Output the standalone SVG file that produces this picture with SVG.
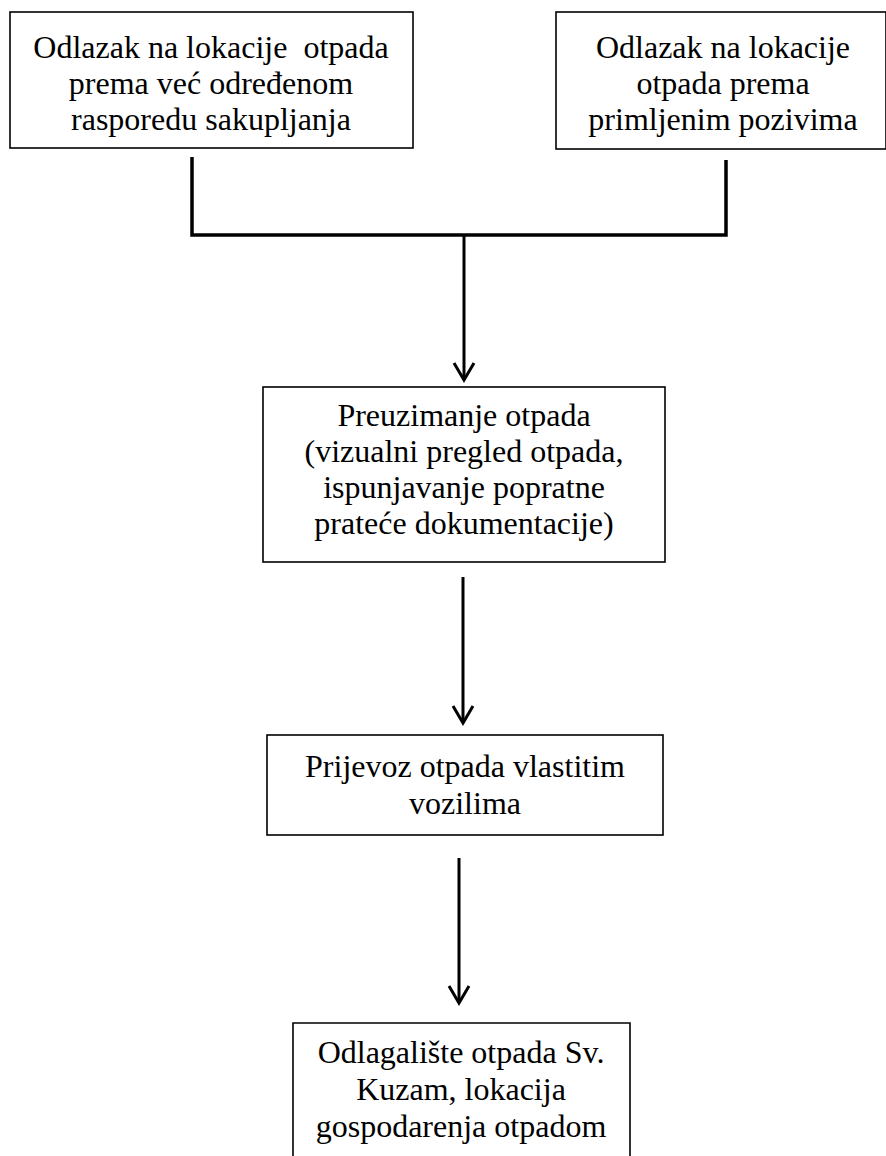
<svg xmlns="http://www.w3.org/2000/svg" width="886" height="1156" viewBox="0 0 886 1156">
<style>
.box{fill:#fff;stroke:#000;stroke-width:1.6}
.t{font-family:"Liberation Serif","Times New Roman",serif;font-size:32px;fill:#000;text-anchor:middle}
.c{fill:none;stroke:#000;stroke-width:3;stroke-linecap:butt}
.thick{stroke-width:3.5}
</style>
<rect width="886" height="1156" fill="#fff"/>
<g id="n1">
<rect class="box" x="10" y="12" width="403" height="136"/>
<text class="t" x="211" y="58" xml:space="preserve">Odlazak na lokacije  otpada</text>
<text class="t" x="211" y="94">prema već određenom</text>
<text class="t" x="211" y="130">rasporedu sakupljanja</text>
</g>
<g id="n2">
<rect class="box" x="556" y="12" width="330" height="137"/>
<text class="t" x="723" y="58">Odlazak na lokacije</text>
<text class="t" x="723" y="94">otpada prema</text>
<text class="t" x="723" y="130">primljenim pozivima</text>
</g>
<g id="n3">
<rect class="box" x="263" y="387" width="402" height="175"/>
<text class="t" x="464" y="426">Preuzimanje otpada</text>
<text class="t" x="464" y="462">(vizualni pregled otpada,</text>
<text class="t" x="464" y="498">ispunjavanje popratne</text>
<text class="t" x="464" y="534">prateće dokumentacije)</text>
</g>
<g id="n4">
<rect class="box" x="267" y="735" width="396" height="100"/>
<text class="t" x="465" y="777">Prijevoz otpada vlastitim</text>
<text class="t" x="465" y="814">vozilima</text>
</g>
<g id="n5">
<path class="box" d="M293,1160 V1023 H630 V1160"/>
<text class="t" x="461" y="1063">Odlagalište otpada Sv.</text>
<text class="t" x="461" y="1100">Kuzam, lokacija</text>
<text class="t" x="461" y="1137">gospodarenja otpadom</text>
</g>
<g id="connectors">
<path class="c thick" d="M192,157 V235 H726 V160"/>
<path class="c" d="M464,235 V380"/>
<path class="c" d="M454,363 L464,380 L474,363"/>
<path class="c" d="M463,577 V723"/>
<path class="c" d="M453,706 L463,723 L473,706"/>
<path class="c" d="M459,858 V1003"/>
<path class="c" d="M449,986 L459,1003 L469,986"/>
</g>
</svg>
